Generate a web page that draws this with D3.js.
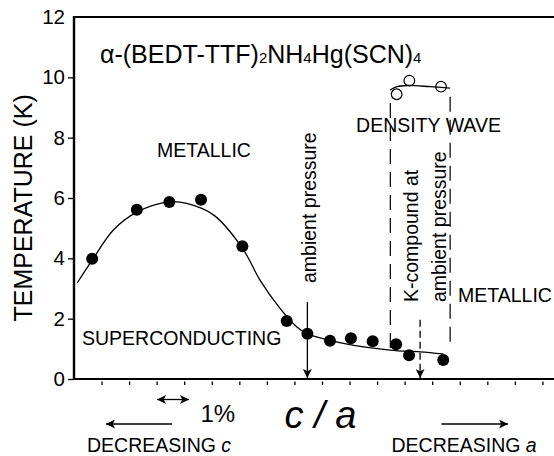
<!DOCTYPE html>
<html>
<head>
<meta charset="utf-8">
<script src="https://cdn.jsdelivr.net/npm/d3@7"></script>
<style>
  body { margin: 0; background: #fff; }
  svg { display: block; font-family: "Liberation Sans", Arial, sans-serif; }
</style>
</head>
<body>
<svg id="chart_svg" width="554" height="456"></svg>
<script>
// x is measured in tick steps along c/a (one step = 1%), y is temperature in K
var xTicks = [1, 2, 3, 4, 5, 6, 7, 8, 9, 10, 11, 12, 13, 14, 15, 16, 17];
var yTicks = [0, 2, 4, 6, 8, 10, 12];

// superconducting Tc (filled dots)
var scX = [0.66, 2.28, 3.46, 4.61, 6.11, 7.72, 8.47, 9.29, 10.05, 10.84, 11.69, 12.16, 13.40];
var scT = [3.99, 5.61, 5.87, 5.94, 4.40, 1.92, 1.50, 1.27, 1.35, 1.25, 1.15, 0.79, 0.63];

// density wave transition (open circles)
var dwX = [11.71, 12.17, 13.32];
var dwT = [9.44, 9.89, 9.69];

// guide-to-the-eye curves
var fitX1 = [0.12, 0.66, 1.43, 2.28, 3.46, 4.09, 5.06, 6.11, 6.75, 7.47, 8.08, 8.47];
var fitT1 = [3.19, 3.94, 4.94, 5.53, 5.87, 5.82, 5.44, 4.34, 3.28, 2.35, 1.73, 1.48];
var fitX2 = [8.47, 9.78, 11.47, 12.56, 13.40];
var fitT2 = [1.48, 1.18, 0.96, 0.90, 0.83];
var fitX3 = [11.47, 11.72, 12.09, 12.92, 13.65];
var fitT3 = [9.58, 9.69, 9.73, 9.69, 9.64];

// phase boundaries / markers
var ambientX = 8.47, ambientTop = 2.55;
var kCompX = 12.56, kCompTop = 1.96;
var dashL = { x: 11.48, top: 9.15, bottom: 0.90 };
var dashR = { x: 13.65, top: 9.36, bottom: 1.13 };

document.addEventListener('DOMContentLoaded', function () {
    drawChart();
});

function drawChart() {
    const svg = d3.select('#chart_svg');
    const margin = { top: 17, bottom: 77, left: 74, right: 0 };
    const width = 554, height = 456;

    const x = d3.scaleLinear().domain([0, 17.42]).range([margin.left, width - margin.right]);
    const y = d3.scaleLinear().domain([0, 12]).range([height - margin.bottom, margin.top]);

    // arrow heads
    const defs = svg.append('defs');
    defs.append('marker')
        .attr('id', 'head')
        .attr('viewBox', '0 -5 10 10')
        .attr('refX', 10).attr('refY', 0)
        .attr('markerWidth', 9).attr('markerHeight', 9)
        .attr('markerUnits', 'userSpaceOnUse')
        .attr('orient', 'auto-start-reverse')
        .append('path')
        .attr('d', 'M0,-5L10,0L0,5L2.5,0Z')
        .attr('fill', '#000');

    // frame: top line, y axis, x axis
    svg.append('line')
        .attr('x1', x(0)).attr('x2', width).attr('y1', y(12)).attr('y2', y(12))
        .attr('stroke', '#000').attr('stroke-width', 2.2);

    const xAxis = svg.append('g')
        .attr('transform', `translate(0,${y(0)})`)
        .call(d3.axisBottom(x).tickValues(xTicks).tickSize(6).tickFormat(''));
    xAxis.select('.domain').attr('d', `M${x(0)},0H${width}`).attr('stroke-width', 2.2);
    xAxis.selectAll('.tick line').attr('y1', 2.5).attr('stroke-width', 1.3);

    const yAxis = svg.append('g')
        .attr('transform', `translate(${x(0)},0)`)
        .call(d3.axisLeft(y).tickValues(yTicks).tickSize(6).tickPadding(3));
    yAxis.select('.domain').attr('d', `M0,${y(0) + 1}V${y(12) - 1}`).attr('stroke-width', 2.4);
    yAxis.selectAll('.tick line').attr('stroke-width', 1.3);
    yAxis.selectAll('.tick text')
        .attr('font-size', 20.5)
        .attr('font-family', '"Liberation Sans", Arial, sans-serif')
        .attr('fill', '#000');
    yAxis.select('.tick:last-of-type line').remove();

    // curves
    const line = d3.line()
        .x(d => x(d[0]))
        .y(d => y(d[1]))
        .curve(d3.curveCatmullRom.alpha(0.5));
    [[fitX1, fitT1], [fitX2, fitT2], [fitX3, fitT3]].forEach(function (p) {
        svg.append('path')
            .datum(d3.zip(p[0], p[1]))
            .attr('d', line)
            .attr('fill', 'none')
            .attr('stroke', '#000')
            .attr('stroke-width', 1.3);
    });

    // dashed phase boundaries
    [dashL, dashR].forEach(function (d) {
        svg.append('line')
            .attr('x1', x(d.x)).attr('x2', x(d.x))
            .attr('y1', y(d.top)).attr('y2', y(d.bottom))
            .attr('stroke', '#000').attr('stroke-width', 1.2)
            .attr('stroke-dasharray', '15,8');
    });

    // ambient pressure arrows
    svg.append('line')
        .attr('x1', x(ambientX)).attr('x2', x(ambientX))
        .attr('y1', y(ambientTop)).attr('y2', y(0) - 1)
        .attr('stroke', '#000').attr('stroke-width', 1.3)
        .attr('marker-end', 'url(#head)');
    svg.append('line')
        .attr('x1', x(kCompX)).attr('x2', x(kCompX))
        .attr('y1', y(kCompTop)).attr('y2', y(0) - 1)
        .attr('stroke', '#000').attr('stroke-width', 1.3)
        .attr('stroke-dasharray', '7,4')
        .attr('marker-end', 'url(#head)');

    // data points
    svg.append('g').selectAll('circle')
        .data(d3.zip(scX, scT))
        .enter()
        .append('circle')
        .attr('cx', d => x(d[0]))
        .attr('cy', d => y(d[1]))
        .attr('r', 6)
        .attr('fill', '#000');
    svg.append('g').selectAll('circle')
        .data(d3.zip(dwX, dwT))
        .enter()
        .append('circle')
        .attr('cx', d => x(d[0]))
        .attr('cy', d => y(d[1]))
        .attr('r', 5.3)
        .attr('fill', 'none')
        .attr('stroke', '#000')
        .attr('stroke-width', 1.2);

    // title
    const title = svg.append('text')
        .attr('x', 100).attr('y', 62.5)
        .attr('font-size', 25);
    title.append('tspan').text('α-(BEDT-TTF)');
    title.append('tspan').attr('font-size', 15).text('2');
    title.append('tspan').text('NH');
    title.append('tspan').attr('font-size', 15).text('4');
    title.append('tspan').text('Hg(SCN)');
    title.append('tspan').attr('font-size', 15).text('4');

    // region labels
    function label(txt, px, py, size, anchor) {
        return svg.append('text')
            .attr('x', px).attr('y', py)
            .attr('font-size', size)
            .attr('text-anchor', anchor || 'start')
            .text(txt);
    }
    label('METALLIC', 157, 157, 19.5);
    label('SUPERCONDUCTING', 82, 345, 19.5);
    label('DENSITY WAVE', 428.5, 131.5, 19.5, 'middle');
    label('METALLIC', 458, 302, 19.5);

    function vlabel(txt, px, py, size) {
        return svg.append('text')
            .attr('transform', `translate(${px},${py}) rotate(-90)`)
            .attr('font-size', size)
            .text(txt);
    }
    vlabel('ambient pressure', 315.5, 283, 19.5);
    vlabel('K-compound at', 418, 302, 19.5);
    vlabel('ambient pressure', 445.5, 302, 19.5);
    vlabel('TEMPERATURE (K)', 32, 321.5, 25);

    // x axis caption
    svg.append('text')
        .attr('x', 320.5).attr('y', 428)
        .attr('font-size', 38)
        .attr('font-style', 'italic')
        .attr('text-anchor', 'middle')
        .text('c / a');
    label('1%', 200.5, 421.5, 24);

    const lc = label('DECREASING ', 87, 452, 19.5);
    lc.append('tspan').attr('font-style', 'italic').text('c');
    const la = label('DECREASING ', 391.5, 452, 19.5);
    la.append('tspan').attr('font-style', 'italic').text('a');

    // bottom arrows
    svg.append('line')
        .attr('x1', 157).attr('x2', 189).attr('y1', 399.5).attr('y2', 399.5)
        .attr('stroke', '#000').attr('stroke-width', 1.3)
        .attr('marker-start', 'url(#head)')
        .attr('marker-end', 'url(#head)');
    svg.append('line')
        .attr('x1', 172).attr('x2', 106).attr('y1', 424).attr('y2', 424)
        .attr('stroke', '#000').attr('stroke-width', 1.3)
        .attr('marker-end', 'url(#head)');
    svg.append('line')
        .attr('x1', 441.5).attr('x2', 508).attr('y1', 424).attr('y2', 424)
        .attr('stroke', '#000').attr('stroke-width', 1.3)
        .attr('marker-end', 'url(#head)');
}
</script>
</body>
</html>
